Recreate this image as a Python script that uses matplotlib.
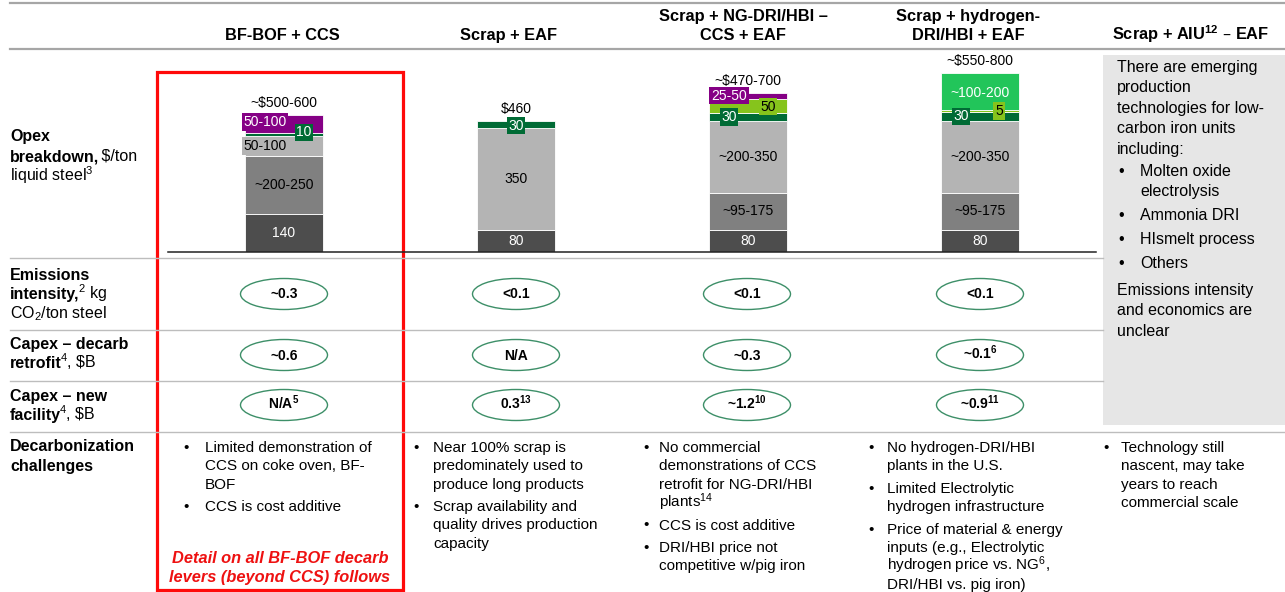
import numpy as np
import matplotlib.pyplot as plt
from matplotlib.patches import Ellipse, Rectangle

plt.rcParams['font.family'] = ['Liberation Sans', 'DejaVu Sans']
plt.rcParams['mathtext.default'] = 'regular'

W, H = 1285, 592

# ---------------- data ----------------
headers = ['BF-BOF + CCS', 'Scrap + EAF', 'Scrap + NG-DRI/HBI –\nCCS + EAF',
           'Scrap + hydrogen-\nDRI/HBI + EAF', 'Scrap + AIU$^{12}$ – EAF']

# opex stacks, bottom to top, $/ton (ranges drawn at about their mid point)
opex_vals = [[140, 215, 75, 10, 66],
             [80, 378, 26],
             [80, 140, 265, 30, 52, 22],
             [80, 140, 265, 33, 7, 137]]
opex_labels = [['140', '~200-250', '50-100', '10', '50-100'],
               ['80', '350', '30'],
               ['80', '~95-175', '~200-350', '30', '50', '25-50'],
               ['80', '~95-175', '~200-350', '30', '5', '~100-200']]
opex_kinds = [['base', 'mid', 'light', 'power', 'ccs'],
              ['base', 'light', 'power'],
              ['base', 'mid', 'light', 'power', 'gas', 'ccs'],
              ['base', 'mid', 'light', 'power', 'gas', 'h2']]
opex_totals = ['~$500-600', '$460', '~$470-700', '~$550-800']

emissions = ['~0.3', '<0.1', '<0.1', '<0.1']
capex_retrofit = ['~0.6', 'N/A', '~0.3', '~0.1$^{6}$']
capex_new = ['N/A$^{5}$', '0.3$^{13}$', '~1.2$^{10}$', '~0.9$^{11}$']

challenges = [
    [['Limited demonstration of', 'CCS on coke oven, BF-', 'BOF'],
     ['CCS is cost additive']],
    [['Near 100% scrap is', 'predominately used to', 'produce long products'],
     ['Scrap availability and', 'quality drives production', 'capacity']],
    [['No commercial', 'demonstrations of CCS', 'retrofit for NG-DRI/HBI', 'plants$^{14}$'],
     ['CCS is cost additive'],
     ['DRI/HBI price not', 'competitive w/pig iron']],
    [['No hydrogen-DRI/HBI', 'plants in the U.S.'],
     ['Limited Electrolytic', 'hydrogen infrastructure'],
     ['Price of material & energy', 'inputs (e.g., Electrolytic',
      'hydrogen price vs. NG$^{6}$,', 'DRI/HBI vs. pig iron)']],
    [['Technology still', 'nascent, may take', 'years to reach', 'commercial scale']],
]

aiu_intro = ['There are emerging', 'production', 'technologies for low-',
             'carbon iron units', 'including:']
aiu_items = [['Molten oxide', 'electrolysis'], ['Ammonia DRI'], ['HIsmelt process'], ['Others']]
aiu_outro = ['Emissions intensity', 'and economics are', 'unclear']

row_labels = [
    ([136, 156, 176], [('Opex', ''), ('breakdown,', ' $/ton'), ('', 'liquid steel$^{3}$')]),
    ([275, 294, 313], [('Emissions', ''), ('intensity,', '$^{2}$ kg'), ('', 'CO$_{2}$/ton steel')]),
    ([344, 363], [('Capex – decarb', ''), ('retrofit', r'$^{4}$, \$B')]),
    ([396, 415], [('Capex – new', ''), ('facility', r'$^{4}$, \$B')]),
    ([446, 466], [('Decarbonization', ''), ('challenges', '')]),
]

# ---------------- styles ----------------
seg_color = {'base': '#4d4d4d', 'mid': '#808080', 'light': '#b4b4b4',
             'power': '#006b35', 'ccs': '#850085', 'gas': '#86c41c', 'h2': '#22c55a'}
seg_text = {'base': 'white', 'mid': 'black', 'light': 'black', 'power': 'white',
            'ccs': 'white', 'gas': 'black', 'h2': 'white'}
# label nudges in pixels (+x right, +y down)
nudges = [[(0, 0), (0, 0), (-19, 0), (20, -2), (-19, -2)],
          [(0, 0), (0, 0), (0, 1)],
          [(0, 0), (0, 0), (0, 0), (-19, 0), (20, 1), (-19, 0)],
          [(0, 0), (0, 0), (0, 0), (-19, 0), (19, 0), (0, 1)]]

col_x = [284, 516, 747, 980]
header_x = [282, 509, 743, 968, 1191]
oval_y = [294, 355, 405]
grey_line = '#bdbdbd'

fig = plt.figure(figsize=(W / 100, H / 100), dpi=100)
ax = fig.add_axes([0, 0, 1, 1])
ax.set_xlim(0, W)
ax.set_ylim(H, 0)
ax.axis('off')

# header + grid lines
ax.plot([10, W], [3, 3], color='#a6a6a6', lw=1.6)
ax.plot([10, W], [49, 49], color='#a6a6a6', lw=1.6)
for y in [258, 330, 381]:
    ax.plot([10, 1103], [y, y], color=grey_line, lw=1)
ax.plot([10, W], [432, 432], color=grey_line, lw=1)

for x, h in zip(header_x, headers):
    lines = h.split('\n')
    ys = [35] if len(lines) == 1 else [16, 35]
    for y, s in zip(ys, lines):
        ax.text(x, y + 5, s, ha='center', va='baseline', fontsize=11.8, fontweight='bold')

# row labels (bold + regular pieces)
for ys, parts in row_labels:
    for y, (b, r) in zip(ys, parts):
        if b:
            t = ax.text(10, y + 5, b, fontsize=11.5, fontweight='bold', va='baseline')
            if r:
                ax.annotate(r, xy=(1, y + 5), xycoords=(t, 'data'), xytext=(-2, 0),
                            textcoords='offset pixels', fontsize=11.5, va='baseline')
        else:
            ax.text(10, y + 5, r, fontsize=11.5, va='baseline')

# grey box for the AIU column
ax.add_patch(Rectangle((1103, 55), 182, 370, facecolor='#e6e6e6', edgecolor='none', zorder=0))
y = 67
for s in aiu_intro:
    ax.text(1117, y + 5, s, fontsize=11.5, va='baseline')
    y += 20.4
y += 2
for item in aiu_items:
    ax.text(1118, y + 5, '•', fontsize=11.5, va='baseline')
    for s in item:
        ax.text(1140, y + 5, s, fontsize=11.5, va='baseline')
        y += 20.4
    y += 3.5
y += 3
for s in aiu_outro:
    ax.text(1117, y + 5, s, fontsize=11.5, va='baseline')
    y += 20.4

# ovals
for r, vals in enumerate([emissions, capex_retrofit, capex_new]):
    for x, v in zip(col_x, vals):
        ax.add_patch(Ellipse((x, oval_y[r]), 87, 31, fill=False, edgecolor='#3d8f68', lw=1))
        ax.text(x, oval_y[r] + 4.5, v, ha='center', va='baseline', fontsize=10, fontweight='bold')

# challenges bullets
bullet_x = [(183, 205), (413, 433), (643, 659), (868, 887), (1103, 1121)]
for (xb, xt), items in zip(bullet_x, challenges):
    y = 447
    for item in items:
        ax.text(xb, y + 5, '•', fontsize=11, va='baseline')
        for s in item:
            ax.text(xt, y + 5, s, fontsize=11, va='baseline')
            y += 18.3
        y += 4.3

# red call-out
ax.add_patch(Rectangle((157, 72), 246, 518, fill=False, edgecolor='#ff0a0a', lw=2.3))
ax.text(280, 563, 'Detail on all BF-BOF decarb', ha='center', va='baseline',
        fontsize=11.8, fontweight='bold', fontstyle='italic', color='#ee1111')
ax.text(280, 582, 'levers (beyond CCS) follows', ha='center', va='baseline',
        fontsize=11.8, fontweight='bold', fontstyle='italic', color='#ee1111')

# ---------------- opex stacked bars ----------------
bx = fig.add_axes([168 / W, (H - 252) / H, 928 / W, 200 / H])
bx.set_xlim(-0.5, 3.5)
bx.set_ylim(0, 740)
bx.axis('off')
bx.patch.set_alpha(0)

for i, vals in enumerate(opex_vals):
    bottom = 0
    for v, lab, kind, (dx, dy) in zip(vals, opex_labels[i], opex_kinds[i], nudges[i]):
        bx.bar(i, v, bottom=bottom, width=0.332, color=seg_color[kind],
               edgecolor='white', linewidth=0.6)
        boxed = kind in ('power', 'gas', 'ccs') or dx != 0
        bbox = dict(boxstyle='square,pad=0.12', fc=seg_color[kind], ec='none') if boxed else None
        bx.annotate(lab, (i, bottom + v / 2), xytext=(dx, -dy), textcoords='offset pixels',
                    ha='center', va='center', fontsize=10, color=seg_text[kind], bbox=bbox)
        bottom += v
    bx.annotate(opex_totals[i], (i, bottom), xytext=(0, 12), textcoords='offset pixels',
                ha='center', va='center', fontsize=10)
bx.axhline(0, color='#222222', lw=1.1, clip_on=False, zorder=3)

fig.savefig('out.png', dpi=100, facecolor='white')
